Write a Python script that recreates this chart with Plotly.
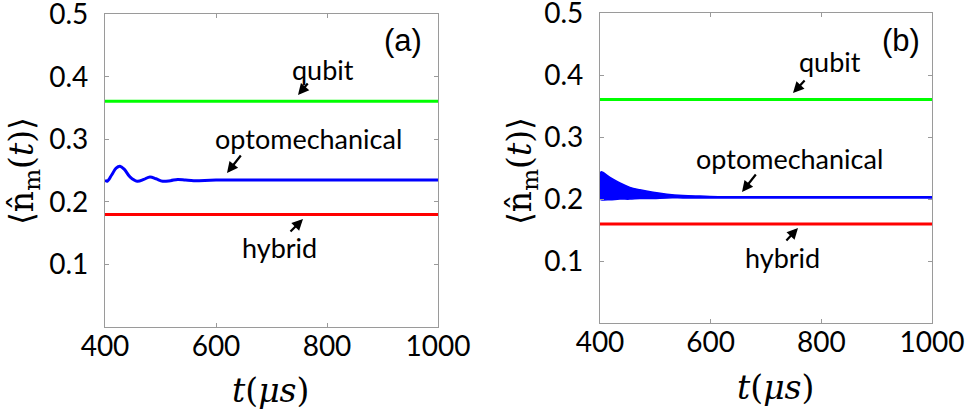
import plotly.graph_objects as go

W, H = 967, 412

# time span of the steady-state lines (µs)
t_span = [400, 1000]

# panel (a) steady values
qubit_a = 0.361
hybrid_a = 0.180
# panel (a) optomechanical transient, read point by point
t_opto_a = [400, 404, 412, 420, 427, 435, 445, 458, 470, 481, 492, 504, 518, 531, 545, 560, 600, 700, 800, 1000]
n_opto_a = [0.235, 0.233, 0.243, 0.254, 0.257, 0.252, 0.240, 0.233, 0.236, 0.240, 0.237, 0.233,
            0.234, 0.236, 0.235, 0.234, 0.235, 0.235, 0.235, 0.235]

# panel (b) steady values
qubit_b = 0.361
hybrid_b = 0.160
# panel (b) optomechanical: fast oscillation band (upper / lower envelope)
t_opto_b = [400, 402, 418, 436, 454, 472, 496, 521, 550, 581, 620, 700, 800, 1000]
n_opto_b_hi = [0.236, 0.244, 0.235, 0.226, 0.219, 0.215, 0.211, 0.208, 0.206, 0.205, 0.204, 0.204, 0.204, 0.204]
n_opto_b_lo = [0.200, 0.199, 0.199, 0.200, 0.200, 0.201, 0.201, 0.202, 0.202, 0.202, 0.202, 0.202, 0.202, 0.202]

y_ticks = [0.1, 0.2, 0.3, 0.4, 0.5]
x_ticks = [400, 600, 800, 1000]

GREEN, BLUE, RED = "#00ff00", "#0000ff", "#ff0000"

fig = go.Figure()

# ---- panel (a)
fig.add_trace(go.Scatter(x=t_span, y=[qubit_a, qubit_a], mode="lines",
                         line=dict(color=GREEN, width=3), xaxis="x", yaxis="y"))
fig.add_trace(go.Scatter(x=t_opto_a, y=n_opto_a, mode="lines",
                         line=dict(color=BLUE, width=3, shape="spline", smoothing=1.0),
                         xaxis="x", yaxis="y"))
fig.add_trace(go.Scatter(x=t_span, y=[hybrid_a, hybrid_a], mode="lines",
                         line=dict(color=RED, width=3), xaxis="x", yaxis="y"))

# ---- panel (b)
fig.add_trace(go.Scatter(x=t_span, y=[qubit_b, qubit_b], mode="lines",
                         line=dict(color=GREEN, width=3), xaxis="x2", yaxis="y2"))
fig.add_trace(go.Scatter(x=t_opto_b, y=n_opto_b_lo, mode="lines",
                         line=dict(color=BLUE, width=1.5, shape="spline"), xaxis="x2", yaxis="y2"))
fig.add_trace(go.Scatter(x=t_opto_b, y=n_opto_b_hi, mode="lines", fill="tonexty",
                         fillcolor=BLUE, line=dict(color=BLUE, width=1.5, shape="spline"),
                         xaxis="x2", yaxis="y2"))
fig.add_trace(go.Scatter(x=t_span, y=[hybrid_b, hybrid_b], mode="lines",
                         line=dict(color=RED, width=3), xaxis="x2", yaxis="y2"))

TICKFONT = dict(family="Lato, 'Open Sans', sans-serif", size=28, color="black")
axis_common = dict(showline=True, mirror="ticks", linecolor="#9a9a9a", linewidth=1.2,
                   ticks="inside", ticklen=4, tickcolor="#9a9a9a", tickwidth=1,
                   showgrid=False, zeroline=False, tickfont=TICKFONT, automargin=False,
                   ticklabeloverflow="allow")


def px_x(p):
    return p / W


def px_y(p):
    return 1 - p / H


fig.update_layout(
    width=W, height=H, margin=dict(l=0, r=0, t=0, b=0),
    paper_bgcolor="white", plot_bgcolor="white", showlegend=False,
    xaxis=dict(domain=[px_x(105), px_x(438)], range=[400, 1000], tickvals=x_ticks,
               anchor="y", ticklabelstandoff=-6, **axis_common),
    yaxis=dict(domain=[px_y(327), px_y(14)], range=[0, 0.5005], tickvals=y_ticks,
               tickformat=".1f", anchor="x", ticklabelstandoff=10, **axis_common),
    xaxis2=dict(domain=[px_x(600), px_x(932)], range=[400, 1000], tickvals=x_ticks,
                anchor="y2", ticklabelstandoff=-6, **axis_common),
    yaxis2=dict(domain=[px_y(323), px_y(13)], range=[0, 0.5005], tickvals=y_ticks,
                tickformat=".1f", anchor="x2", ticklabelstandoff=10, **axis_common),
)

LABEL_FONT = dict(family="Lato, 'Open Sans', sans-serif", size=27, color="black")
PANEL_FONT = dict(family="Liberation Sans, Arial, sans-serif", size=31, color="black")
MATH_FONT = dict(family="DejaVu Serif, Liberation Serif, serif", size=33, color="black")

annotations = []


def text(x, y, s, font, **kw):
    annotations.append(dict(x=px_x(x), y=px_y(y), xref="paper", yref="paper", text=s,
                            showarrow=False, font=font, xanchor="center", yanchor="middle", **kw))


def arrow(hx, hy, ax, ay):
    annotations.append(dict(x=px_x(hx), y=px_y(hy), xref="paper", yref="paper", text="",
                            showarrow=True, arrowhead=2, arrowsize=1, arrowwidth=2.2,
                            arrowcolor="black", ax=ax, ay=ay, standoff=0, startstandoff=0))


# panel (a) labels
text(403, 41, "(a)", PANEL_FONT)
text(323, 69, "qubit", LABEL_FONT)
arrow(298, 95, 11, -13)
text(308, 138, "optomechanical", LABEL_FONT)
arrow(227, 173, 15, -19)
text(279, 248, "hybrid", LABEL_FONT)
arrow(303, 219, -14, 14)

# panel (b) labels
text(901, 41, "(b)", PANEL_FONT)
text(830, 62, "qubit", LABEL_FONT)
arrow(793, 93, 13, -14)
text(789, 159, "optomechanical", LABEL_FONT)
arrow(742, 192, 15, -19)
text(782, 257, "hybrid", LABEL_FONT)
arrow(798, 228, -13, 14)

# axis titles
xtitle = "<i>t</i>(<i>μs</i>)"
ytitle = "⟨n̂<sub>m</sub>(<i>t</i>)⟩"
text(270, 390, xtitle, MATH_FONT)
text(775, 387, xtitle, MATH_FONT)
text(24, 171, ytitle, MATH_FONT, textangle=-90)
text(522, 171, ytitle, MATH_FONT, textangle=-90)

fig.update_layout(annotations=annotations)

fig.write_html("out.html")
